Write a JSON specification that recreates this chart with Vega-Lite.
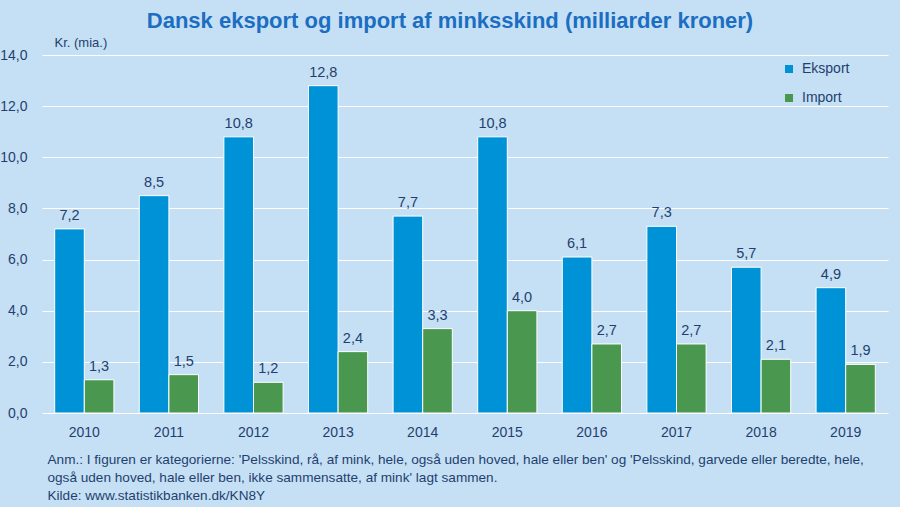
{
  "$schema": "https://vega.github.io/schema/vega-lite/v6.json",
  "width": 846,
  "height": 358,
  "autosize": "none",
  "padding": {"left": 42, "top": 55, "right": 12, "bottom": 94},
  "background": "#C5E0F4",
  "title": {
    "text": "Dansk eksport og import af minksskind (milliarder kroner)",
    "frame": "group",
    "anchor": "middle",
    "dx": -15,
    "offset": 3,
    "fontSize": 22,
    "fontWeight": "bold",
    "color": "#1B6EC2",
    "font": "Liberation Sans Narrow, Arial Narrow, Liberation Sans, Arial"
  },
  "data": {
    "values": [
      {"year": "2010", "type": "Eksport", "value": 7.2},
      {"year": "2011", "type": "Eksport", "value": 8.5},
      {"year": "2012", "type": "Eksport", "value": 10.8},
      {"year": "2013", "type": "Eksport", "value": 12.8},
      {"year": "2014", "type": "Eksport", "value": 7.7},
      {"year": "2015", "type": "Eksport", "value": 10.8},
      {"year": "2016", "type": "Eksport", "value": 6.1},
      {"year": "2017", "type": "Eksport", "value": 7.3},
      {"year": "2018", "type": "Eksport", "value": 5.7},
      {"year": "2019", "type": "Eksport", "value": 4.9},
      {"year": "2010", "type": "Import", "value": 1.3},
      {"year": "2011", "type": "Import", "value": 1.5},
      {"year": "2012", "type": "Import", "value": 1.2},
      {"year": "2013", "type": "Import", "value": 2.4},
      {"year": "2014", "type": "Import", "value": 3.3},
      {"year": "2015", "type": "Import", "value": 4.0},
      {"year": "2016", "type": "Import", "value": 2.7},
      {"year": "2017", "type": "Import", "value": 2.7},
      {"year": "2018", "type": "Import", "value": 2.1},
      {"year": "2019", "type": "Import", "value": 1.9}
    ]
  },
  "encoding": {
    "x": {
      "field": "year",
      "type": "nominal",
      "scale": {"paddingInner": 0.3, "paddingOuter": 0.15},
      "axis": {
        "labelAngle": 0,
        "labelPadding": 12,
        "ticks": false,
        "domain": false,
        "labelFontSize": 14,
        "labelColor": "#1F3F6F",
        "title": [
          "Anm.: I figuren er kategorierne: 'Pelsskind, rå, af mink, hele, også uden hoved, hale eller ben' og 'Pelsskind, garvede eller beredte, hele,",
          "også uden hoved, hale eller ben, ikke sammensatte, af mink' lagt sammen.",
          "Kilde: www.statistikbanken.dk/KN8Y"
        ],
        "titleFontSize": 13.6,
        "titleFontWeight": "normal",
        "titleColor": "#1F3F6F",
        "titleAnchor": "start",
        "titleAlign": "left",
        "titleBaseline": "top",
        "titleX": 5,
        "titleY": 39,
        "titleLineHeight": 18
      }
    },
    "xOffset": {"field": "type", "type": "nominal", "scale": {"paddingInner": 0}},
    "y": {
      "field": "value",
      "type": "quantitative",
      "scale": {"domain": [0, 14], "nice": false},
      "axis": {
        "values": [0, 2, 4, 6, 8, 10, 12, 14],
        "format": ".1f",
        "domain": false,
        "ticks": false,
        "labelPadding": 15,
        "labelFontSize": 14,
        "labelColor": "#1F3F6F",
        "grid": true,
        "gridColor": "#FFFFFF",
        "gridWidth": 1.2,
        "title": "Kr. (mia.)",
        "titleAngle": 0,
        "titleAlign": "left",
        "titleBaseline": "bottom",
        "titleX": 12,
        "titleY": -6,
        "titleFontSize": 13,
        "titleFontWeight": "normal",
        "titleColor": "#1F3F6F"
      }
    }
  },
  "layer": [
    {
      "mark": {"type": "bar", "stroke": "#FFFFFF", "strokeWidth": 1},
      "encoding": {
        "color": {
          "field": "type",
          "type": "nominal",
          "scale": {"domain": ["Eksport", "Import"], "range": ["#0092D6", "#4A9850"]},
          "legend": {
            "title": null,
            "orient": "none",
            "legendX": 740,
            "legendY": 7,
            "symbolType": "square",
            "symbolSize": 64,
            "symbolStrokeWidth": 0,
            "labelFontSize": 14,
            "labelColor": "#1F3F6F",
            "rowPadding": 15,
            "labelOffset": 6
          }
        }
      }
    },
    {
      "mark": {"type": "text", "baseline": "bottom", "dy": -6, "fontSize": 14.5, "color": "#1F3F6F"},
      "encoding": {
        "text": {"field": "value", "type": "quantitative", "format": ".1f"}
      }
    }
  ],
  "config": {
    "font": "Liberation Sans Narrow, Arial Narrow, Liberation Sans, Arial",
    "view": {"stroke": null},
    "locale": {
      "number": {"decimal": ",", "thousands": ".", "grouping": [3], "currency": ["", " kr."]}
    }
  }
}
